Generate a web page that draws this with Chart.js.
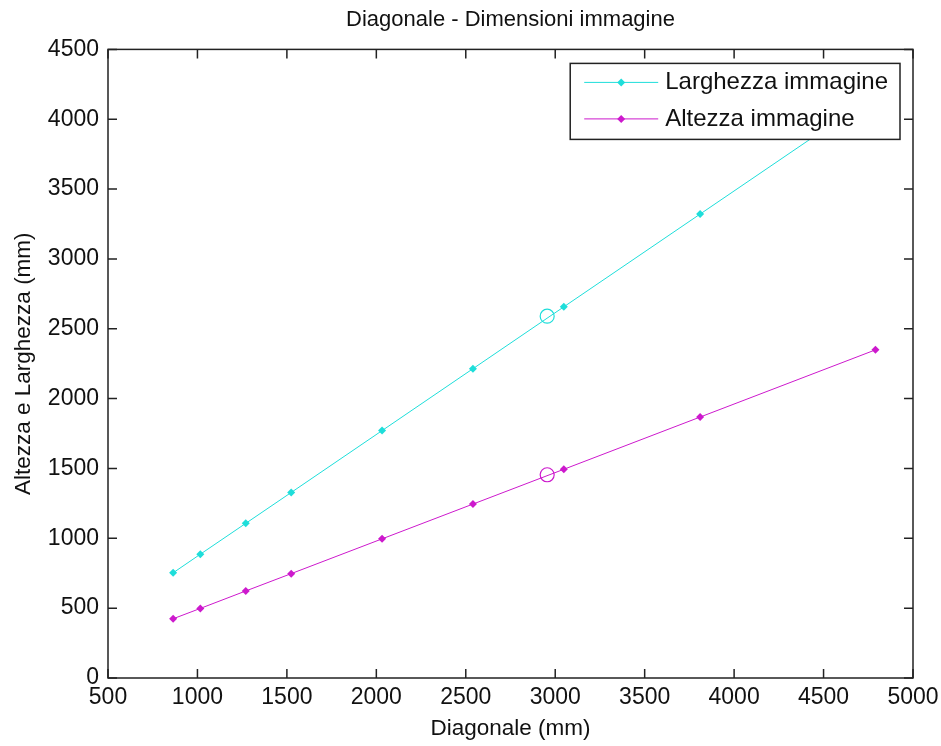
<!DOCTYPE html>
<html>
<head>
<meta charset="utf-8">
<script src="https://cdn.jsdelivr.net/npm/chart.js@4"></script>
<style>
  html, body { margin: 0; padding: 0; background: #fff; }
  #wrap { width: 941px; height: 746px; }
</style>
</head>
<body>
<div id="wrap"><canvas id="diagChart" width="941" height="746"></canvas></div>
<script>
// data (mm)
const diagonale = [864, 1016, 1270, 1524, 2032, 2540, 3048, 3810, 4790];
const larghezza = [753, 886, 1107, 1328, 1771, 2214, 2657, 3321, 4175];
const altezza = [424, 498, 623, 747, 996, 1245, 1494, 1868, 2349];

// highlighted point (open circles)
const puntoDiagonale = [2955];
const puntoLarghezza = [2590];
const puntoAltezza = [1455];

const xTicks = [500, 1000, 1500, 2000, 2500, 3000, 3500, 4000, 4500, 5000];
const yTicks = [0, 500, 1000, 1500, 2000, 2500, 3000, 3500, 4000, 4500];

const CYAN = 'rgb(30,222,218)';
const MAGENTA = 'rgb(205,25,205)';
const FONT = "'Liberation Sans', Arial, sans-serif";

function toXY(xs, ys) {
    return xs.map((x, i) => ({ x: x, y: ys[i] }));
}

// matlab-like box with inward ticks
const boxPlugin = {
    id: 'boxPlugin',
    afterDraw(chart) {
        const { ctx, chartArea: a, scales } = chart;
        const len = 9;
        ctx.save();
        ctx.strokeStyle = '#222';
        ctx.lineWidth = 1.5;
        ctx.strokeRect(a.left, a.top, a.right - a.left, a.bottom - a.top);
        ctx.beginPath();
        xTicks.forEach(v => {
            const px = scales.x.getPixelForValue(v);
            ctx.moveTo(px, a.bottom); ctx.lineTo(px, a.bottom - len);
            ctx.moveTo(px, a.top); ctx.lineTo(px, a.top + len);
        });
        yTicks.forEach(v => {
            const py = scales.y.getPixelForValue(v);
            ctx.moveTo(a.left, py); ctx.lineTo(a.left + len, py);
            ctx.moveTo(a.right, py); ctx.lineTo(a.right - len, py);
        });
        ctx.stroke();
        ctx.restore();
    }
};

// boxed legend in the top right corner
const legendBox = {
    id: 'legendBox',
    afterDatasetsDraw(chart) {
        const { ctx, chartArea: a } = chart;
        const items = chart.data.datasets.filter(d => d.inLegend);
        ctx.save();
        ctx.font = '24px ' + FONT;
        let textW = 0;
        items.forEach(d => { textW = Math.max(textW, ctx.measureText(d.label).width); });
        const w = 95 + textW + 12;
        const h = 76;
        const right = a.right - 13;
        const left = right - w;
        const top = a.top + 14;
        ctx.fillStyle = '#fff';
        ctx.fillRect(left, top, w, h);
        ctx.strokeStyle = '#222';
        ctx.lineWidth = 1.5;
        ctx.strokeRect(left, top, w, h);
        items.forEach((d, i) => {
            const y = top + 19 + i * 36.5;
            ctx.strokeStyle = d.borderColor;
            ctx.lineWidth = 1;
            ctx.beginPath();
            ctx.moveTo(left + 14, y);
            ctx.lineTo(left + 88, y);
            ctx.stroke();
            const cx = left + 51;
            ctx.fillStyle = d.borderColor;
            ctx.beginPath();
            ctx.moveTo(cx, y - 4); ctx.lineTo(cx + 4, y);
            ctx.lineTo(cx, y + 4); ctx.lineTo(cx - 4, y);
            ctx.closePath();
            ctx.fill();
            ctx.fillStyle = '#111';
            ctx.textBaseline = 'middle';
            ctx.textAlign = 'left';
            ctx.fillText(d.label, left + 95, y);
        });
        ctx.restore();
    }
};

const ctx = document.getElementById('diagChart').getContext('2d');

const diagChart = new Chart(ctx, {
    type: 'line',
    data: {
        datasets: [{
            label: 'Larghezza immagine',
            inLegend: true,
            data: toXY(diagonale, larghezza),
            borderColor: CYAN,
            backgroundColor: CYAN,
            borderWidth: 1,
            pointStyle: 'rectRot',
            pointRadius: 4,
            pointBorderWidth: 0,
            tension: 0
        }, {
            label: 'Altezza immagine',
            inLegend: true,
            data: toXY(diagonale, altezza),
            borderColor: MAGENTA,
            backgroundColor: MAGENTA,
            borderWidth: 1,
            pointStyle: 'rectRot',
            pointRadius: 4,
            pointBorderWidth: 0,
            tension: 0
        }, {
            label: 'punto larghezza',
            data: toXY(puntoDiagonale, puntoLarghezza),
            showLine: false,
            borderColor: CYAN,
            backgroundColor: 'rgba(0,0,0,0)',
            pointStyle: 'circle',
            pointRadius: 7,
            pointBorderWidth: 1.2
        }, {
            label: 'punto altezza',
            data: toXY(puntoDiagonale, puntoAltezza),
            showLine: false,
            borderColor: MAGENTA,
            backgroundColor: 'rgba(0,0,0,0)',
            pointStyle: 'circle',
            pointRadius: 7,
            pointBorderWidth: 1.2
        }]
    },
    options: {
        responsive: false,
        animation: false,
        layout: {
            padding: { left: 0, right: 28, top: 0, bottom: 0 }
        },
        scales: {
            x: {
                type: 'linear',
                min: 500,
                max: 5000,
                afterFit(scale) {
                    scale.height = 68;
                    scale.paddingLeft = 20;
                    scale.paddingRight = 20;
                },
                afterBuildTicks(scale) { scale.ticks = xTicks.map(v => ({ value: v })); },
                grid: { display: false, drawTicks: false },
                border: { display: false },
                ticks: {
                    padding: 6,
                    color: '#111',
                    maxRotation: 0,
                    autoSkip: false,
                    font: { family: FONT, size: 23, lineHeight: 1.2 },
                    callback: v => String(v)
                },
                title: {
                    display: true,
                    text: 'Diagonale (mm)',
                    color: '#111',
                    padding: { top: 0, bottom: 4 },
                    font: { family: FONT, size: 22.5, lineHeight: 1.2 }
                }
            },
            y: {
                type: 'linear',
                min: 0,
                max: 4500,
                afterFit(scale) { scale.width = 108; },
                afterBuildTicks(scale) { scale.ticks = yTicks.map(v => ({ value: v })); },
                grid: { display: false, drawTicks: false },
                border: { display: false },
                ticks: {
                    padding: 9,
                    color: '#111',
                    autoSkip: false,
                    font: { family: FONT, size: 23, lineHeight: 1.2 },
                    callback: v => String(v)
                },
                title: {
                    display: true,
                    text: 'Altezza e Larghezza (mm)',
                    color: '#111',
                    padding: { top: 10, bottom: 0 },
                    font: { family: FONT, size: 22.5, lineHeight: 1.2 }
                }
            }
        },
        plugins: {
            legend: { display: false },
            tooltip: { enabled: false },
            title: {
                display: true,
                text: 'Diagonale - Dimensioni immagine',
                color: '#111',
                fullSize: false,
                padding: { top: 7, bottom: 16 },
                font: { family: FONT, size: 22, weight: 'normal', lineHeight: 1.2 }
            }
        }
    },
    plugins: [boxPlugin, legendBox]
});
</script>
</body>
</html>
